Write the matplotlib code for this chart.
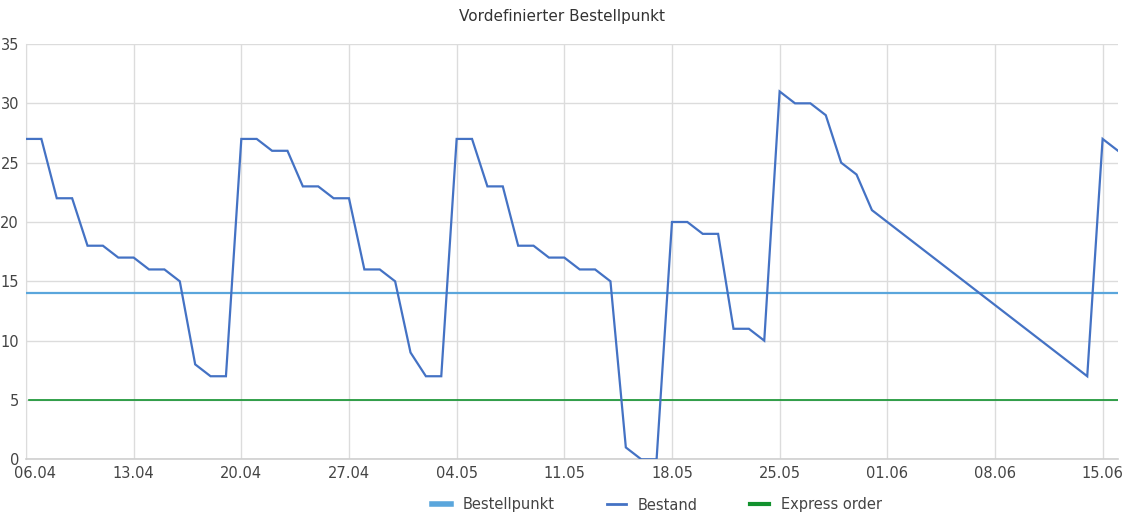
import matplotlib
matplotlib.use("Agg")
import matplotlib.pyplot as plt
import matplotlib.dates as mdates
from matplotlib.lines import Line2D
import matplotlib.transforms as mtransforms
import pandas as pd

plt.rcParams['font.family'] = ['Liberation Sans Narrow', 'DejaVu Sans']

# ---- data ----
title = "Vordefinierter Bestellpunkt"
bestand_dates = ["2020-04-06", "2020-04-07", "2020-04-08", "2020-04-09", "2020-04-10",
                 "2020-04-11", "2020-04-12", "2020-04-13", "2020-04-14", "2020-04-15",
                 "2020-04-16", "2020-04-17", "2020-04-18", "2020-04-19", "2020-04-20",
                 "2020-04-21", "2020-04-22", "2020-04-23", "2020-04-24", "2020-04-25",
                 "2020-04-26", "2020-04-27", "2020-04-28", "2020-04-29", "2020-04-30",
                 "2020-05-01", "2020-05-02", "2020-05-03", "2020-05-04", "2020-05-05",
                 "2020-05-06", "2020-05-07", "2020-05-08", "2020-05-09", "2020-05-10",
                 "2020-05-11", "2020-05-12", "2020-05-13", "2020-05-14", "2020-05-15",
                 "2020-05-16", "2020-05-17", "2020-05-18", "2020-05-19", "2020-05-20",
                 "2020-05-21", "2020-05-22", "2020-05-23", "2020-05-24", "2020-05-25",
                 "2020-05-26", "2020-05-27", "2020-05-28", "2020-05-29", "2020-05-30",
                 "2020-05-31", "2020-06-14", "2020-06-15", "2020-06-16"]
bestand_values = [27, 27, 22, 22, 18, 18, 17, 17, 16, 16,
                  15, 8, 7, 7, 27, 27, 26, 26, 23, 23,
                  22, 22, 16, 16, 15, 9, 7, 7, 27, 27,
                  23, 23, 18, 18, 17, 17, 16, 16, 15, 1,
                  0, 0, 20, 20, 19, 19, 11, 11, 10, 31,
                  30, 30, 29, 25, 24, 21, 7, 27, 26]
bestellpunkt = 14
express_order = 5
x_start, x_end = "2020-04-06", "2020-06-16"
y_ticks = [0, 5, 10, 15, 20, 25, 30, 35]
legend_labels = ["Bestellpunkt", "Bestand", "Express order"]

# ---- plot ----
W, H = 1124, 515
fig = plt.figure(figsize=(W / 100, H / 100), dpi=100)
ax = fig.add_axes([26 / W, 1 - 459.3 / H, (1118 - 26) / W, (459.3 - 44) / H])

dates = pd.to_datetime(bestand_dates)
x0, x1 = pd.Timestamp(x_start), pd.Timestamp(x_end)

c_bp = "#5aa6dc"
c_bs = "#4472c4"
c_ex = "#12922e"

ax.axhline(bestellpunkt, color=c_bp, lw=1.6, zorder=3)
ax.plot([x0 + pd.Timedelta(hours=5), x1], [express_order, express_order], color=c_ex, lw=1.2, zorder=3)
ax.plot(dates, bestand_values, color=c_bs, lw=1.6, zorder=4, solid_joinstyle='miter')

ax.set_xlim(x0, x1)
ax.set_ylim(0, 35)
ax.set_yticks(y_ticks)
ticks = pd.date_range(x0, x1, freq="7D")
ax.set_xticks(ticks)
ax.xaxis.set_major_formatter(mdates.DateFormatter("%d.%m"))

ax.grid(True, color="#dcdcdc", lw=1.0)
ax.set_axisbelow(True)
for s in ["top", "right"]:
    ax.spines[s].set_visible(False)
ax.spines["left"].set_color("#dcdcdc")
ax.spines["bottom"].set_color("#cfcfcf")
ax.spines["bottom"].set_linewidth(1.2)
ax.tick_params(axis="both", length=0, labelsize=10.5, labelcolor="#444444")
ax.tick_params(axis="y", pad=5)
ax.tick_params(axis="x", pad=5)

fig.canvas.draw()
lbls = ax.get_xticklabels()
if lbls:
    off = mtransforms.ScaledTranslation(9 / 100, 0, fig.dpi_scale_trans)
    lbls[0].set_transform(lbls[0].get_transform() + off)

fig.text(0.5, 1 - 17 / H, title, ha="center", va="center", fontsize=11, color="#333333")

handles = [Line2D([0], [0], color=c_bp, lw=4),
           Line2D([0], [0], color=c_bs, lw=2),
           Line2D([0], [0], color=c_ex, lw=3)]
fig.legend(handles, legend_labels, loc="center", bbox_to_anchor=(657 / W, 1 - 505 / H),
           ncol=3, frameon=False, fontsize=10.5, handlelength=1.3, columnspacing=3.6,
           handletextpad=0.8, labelcolor="#444444")

fig.savefig("out.png", dpi=100)
